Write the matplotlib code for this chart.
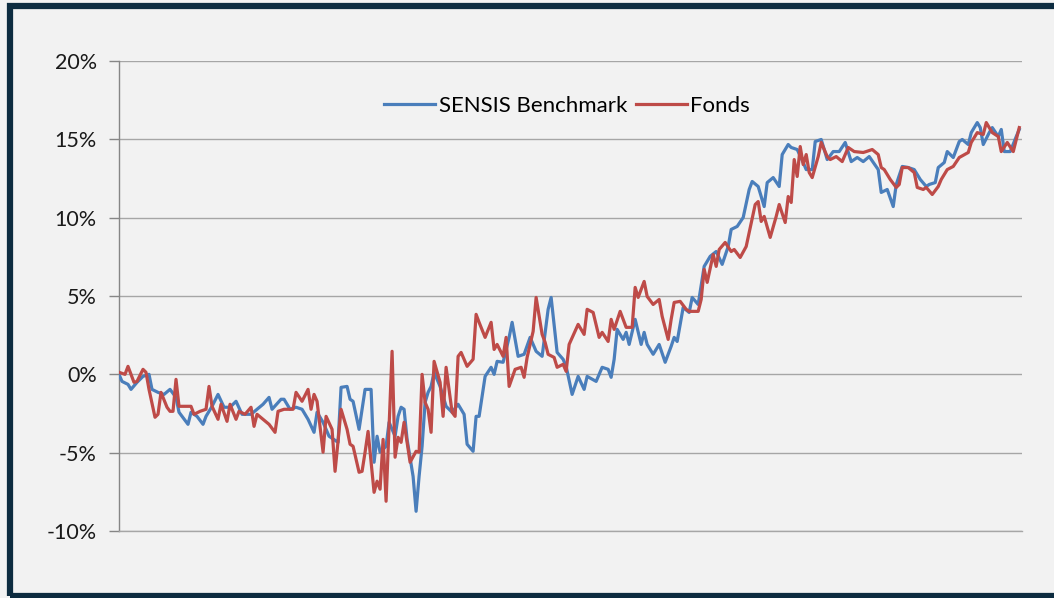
import matplotlib.pyplot as plt
from matplotlib.patches import Rectangle
from matplotlib.ticker import FuncFormatter

plt.rcParams['font.family'] = ['Lato', 'DejaVu Sans']

# weekly cumulative performance in %
bench_weeks = [0, 1, 3, 4, 6, 8, 10, 11, 13, 15, 17, 19, 20, 23, 24, 26, 28, 29, 31, 33,
               35, 37, 39, 41, 44, 46, 48, 50, 51, 54, 55, 57, 59, 61, 63, 65, 66, 68, 70, 73,
               74, 76, 77, 78, 80, 81, 82, 84, 85, 86, 87, 89, 90, 92, 93, 94, 95, 96, 98, 99,
               100, 101, 102, 103, 104, 105, 107, 109, 111, 113, 115, 116, 118, 119, 120, 122, 124, 125, 126, 128,
               130, 131, 133, 135, 137, 139, 141, 143, 144, 146, 148, 149, 151, 153, 155, 156, 159, 161, 163, 164,
               165, 166, 168, 169, 170, 172, 174, 175, 176, 178, 180, 182, 184, 185, 186, 188, 190, 191, 193, 195,
               197, 199, 201, 203, 204, 206, 208, 210, 211, 213, 215, 216, 218, 220, 221, 223, 224, 226, 228, 229,
               231, 232, 234, 236, 238, 240, 242, 244, 246, 248, 250, 253, 254, 256, 258, 259, 261, 263, 265, 267,
               269, 270, 272, 273, 275, 276, 278, 280, 281, 283, 284, 286, 287, 288, 290, 291, 293, 294, 295, 297,
               299, 300]
bench = [0.0, -0.45, -0.64, -0.96, -0.51, -0.13, 0.0, -0.96, -1.15, -1.28, -0.96, -1.47, -2.42, -3.19, -2.42, -2.68, -3.19, -2.68, -2.04, -1.28,
         -2.10, -2.10, -1.72, -2.55, -2.55, -2.23, -1.91, -1.47, -2.23, -1.59, -1.59, -2.23, -2.10, -2.23, -2.87, -3.70, -2.42, -3.06, -3.95, -4.34,
         -0.83, -0.77, -1.59, -1.72, -3.51, -2.23, -0.96, -0.96, -5.61, -3.95, -4.97, -4.59, -3.06, -3.95, -2.68, -2.10, -2.23, -4.15, -6.51, -8.74,
         -6.51, -4.59, -1.79, -1.15, -0.77, 0.13, -0.77, -2.04, -2.42, -1.91, -2.55, -4.46, -4.91, -2.68, -2.68, -0.13, 0.45, 0.0, 0.83, 0.77,
         2.36, 3.32, 1.15, 1.28, 2.36, 1.47, 1.15, 4.15, 4.91, 1.40, 0.96, 0.51, -1.28, -0.13, -0.96, -0.13, -0.45, 0.45, 0.32, -0.19,
         0.96, 2.87, 2.23, 2.68, 1.91, 3.51, 1.91, 2.68, 1.91, 1.28, 1.91, 0.77, 1.79, 2.36, 2.10, 4.27, 3.95, 4.91, 4.46, 6.89,
         7.53, 7.84, 7.02, 8.16, 9.25, 9.44, 10.01, 11.80, 12.31, 11.99, 10.71, 12.24, 12.56, 11.99, 14.03, 14.67, 14.48, 14.35, 13.52, 13.07,
         13.07, 14.86, 14.99, 13.71, 14.22, 14.22, 14.80, 13.58, 13.84, 13.58, 13.90, 13.07, 11.61, 11.80, 10.71, 12.12, 13.27, 13.20, 13.07, 12.44,
         11.99, 12.12, 12.24, 13.20, 13.52, 14.22, 13.84, 14.86, 14.99, 14.67, 15.43, 16.07, 15.75, 14.67, 15.43, 15.75, 15.18, 15.63, 14.22, 14.22,
         15.18, 15.63]

fund_weeks = [0, 2, 3, 5, 6, 8, 9, 10, 12, 13, 14, 16, 17, 18, 19, 20, 21, 24, 25, 27,
              29, 30, 31, 33, 34, 36, 37, 39, 40, 42, 44, 45, 46, 48, 50, 52, 53, 55, 58, 59,
              61, 63, 64, 65, 66, 68, 69, 71, 72, 73, 74, 76, 77, 78, 80, 81, 82, 83, 85, 86,
              87, 88, 89, 91, 92, 93, 94, 95, 97, 99, 100, 101, 102, 103, 104, 105, 107, 108, 109, 111,
              112, 113, 114, 116, 118, 119, 120, 122, 124, 125, 126, 128, 129, 130, 132, 134, 135, 136, 138, 139,
              141, 142, 143, 145, 146, 148, 149, 150, 153, 155, 156, 158, 160, 161, 163, 164, 165, 167, 169, 171,
              172, 173, 175, 176, 178, 180, 181, 183, 184, 185, 187, 189, 190, 193, 194, 195, 196, 198, 199, 200,
              202, 204, 205, 207, 209, 210, 212, 213, 214, 215, 217, 219, 220, 222, 223, 224, 225, 226, 227, 228,
              229, 230, 231, 233, 234, 236, 237, 239, 241, 243, 245, 248, 249, 251, 253, 254, 255, 257, 259, 260,
              261, 263, 265, 266, 268, 269, 271, 273, 274, 276, 278, 280, 283, 284, 286, 288, 289, 291, 293, 294,
              296, 298, 299, 300]
fund = [0.13, 0.0, 0.51, -0.51, -0.45, 0.32, 0.13, -0.96, -2.74, -2.55, -1.15, -2.10, -2.36, -2.36, -0.32, -2.04, -2.04, -2.04, -2.55, -2.36,
        -2.23, -0.77, -2.04, -2.87, -1.91, -3.00, -1.91, -2.87, -2.36, -2.55, -2.10, -3.32, -2.55, -2.87, -3.19, -3.70, -2.36, -2.23, -2.23, -1.15,
        -1.72, -0.96, -2.23, -1.28, -1.72, -4.97, -2.68, -3.51, -6.19, -4.27, -2.23, -3.51, -4.46, -4.59, -6.25, -6.19, -4.97, -3.64, -7.53, -6.82,
        -7.33, -4.15, -8.10, 1.47, -5.29, -4.02, -4.34, -3.06, -5.61, -4.91, -4.97, 0.0, -1.79, -2.23, -3.70, 0.83, -0.51, -2.68, 0.45, -2.42,
        -2.68, 1.15, 1.40, 0.51, 0.96, 3.83, 3.32, 2.36, 3.32, 1.59, 1.91, 1.15, 2.36, -0.77, 0.32, 0.45, -0.19, 1.08, 2.74, 4.91,
        2.55, 2.04, 1.28, 1.08, 0.45, 0.64, 0.19, 1.91, 3.19, 2.55, 4.15, 3.95, 2.36, 2.68, 2.10, 3.51, 2.87, 4.02, 3.00, 3.00,
        5.55, 4.91, 5.93, 4.97, 4.46, 4.78, 3.70, 2.23, 3.51, 4.59, 4.66, 4.15, 4.02, 4.02, 4.78, 6.70, 5.87, 7.65, 6.89, 7.97,
        8.42, 7.84, 7.97, 7.46, 8.16, 9.06, 10.84, 11.03, 9.76, 10.08, 8.74, 10.08, 10.84, 9.69, 11.35, 10.97, 13.71, 12.63, 14.54, 13.39,
        14.03, 12.88, 12.56, 13.90, 14.80, 13.90, 13.71, 13.90, 13.58, 14.48, 14.22, 14.16, 14.22, 14.35, 14.03, 13.20, 13.07, 12.44, 11.93, 12.12,
        13.20, 13.20, 12.88, 11.93, 11.80, 11.93, 11.48, 11.99, 12.44, 13.07, 13.27, 13.84, 14.16, 14.80, 15.43, 15.31, 16.07, 15.43, 15.18, 14.22,
        14.80, 14.22, 14.99, 15.75]

yticks = [-10, -5, 0, 5, 10, 15, 20]
labels = ['SENSIS Benchmark', 'Fonds']

bg = '#f2f2f2'
fig = plt.figure(figsize=(10.54, 5.98), dpi=100, facecolor=bg)
ax = fig.add_axes([0.1129, 0.112, 0.857, 0.786], facecolor=bg)

ax.plot(bench_weeks, bench, color='#4a7ebb', lw=2.3, label=labels[0], zorder=3)
ax.plot(fund_weeks, fund, color='#be4b48', lw=2.3, label=labels[1], zorder=4)

ax.set_xlim(0, 301)
ax.set_ylim(-10, 20)
ax.set_yticks(yticks)
ax.yaxis.set_major_formatter(FuncFormatter(lambda v, p: f'{v:.0f}%'))
ax.set_xticks([])
ax.grid(axis='y', color='#a6a6a6', lw=1.0)
ax.set_axisbelow(True)
for s in ['top', 'right']:
    ax.spines[s].set_visible(False)
ax.spines['bottom'].set_color('#a6a6a6')
ax.spines['bottom'].set_linewidth(1.0)
ax.spines['left'].set_color('#868686')
ax.spines['left'].set_linewidth(1.0)
ax.tick_params(axis='y', length=7, width=1, color='#868686', labelsize=15.5,
               labelcolor='#1a1a1a', pad=9)

fig.legend(loc='center', bbox_to_anchor=(0.538, 0.823), ncol=2, frameon=False,
           fontsize=16, handlelength=2.3, handletextpad=0.15, columnspacing=0.4)

# dark frame around the chart
fig.add_artist(Rectangle((10 / 1054, 2 / 598), 1.2, 590 / 598, transform=fig.transFigure,
                         fill=False, edgecolor='#0d2c40', lw=4.5, clip_on=False))

fig.savefig('out.png', dpi=100, facecolor=bg)
